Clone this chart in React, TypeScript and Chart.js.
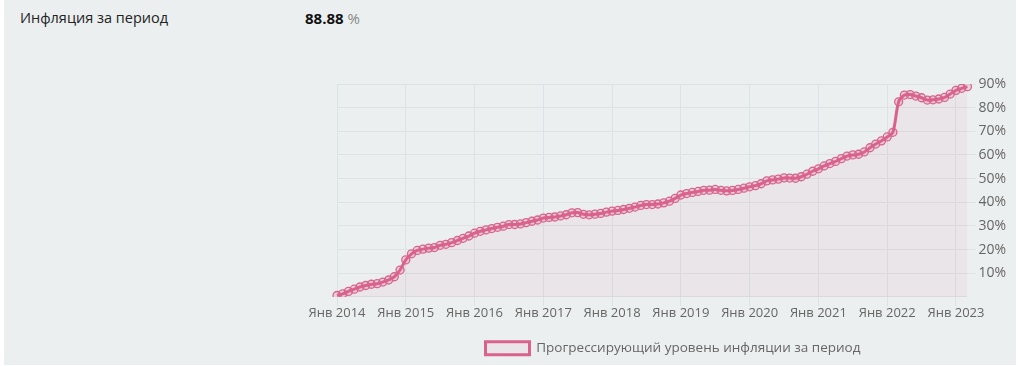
import React, { useEffect, useRef } from "react";
import { Chart, registerables } from "chart.js";

Chart.register(...registerables);

const monthNames = ["Янв", "Фев", "Мар", "Апр", "Май", "Июн", "Июл", "Авг", "Сен", "Окт", "Ноя", "Дек"];
const years = [2014, 2015, 2016, 2017, 2018, 2019, 2020, 2021, 2022, 2023];

const values2014 = [0.59, 1.29, 2.33, 3.25, 4.18, 4.82, 5.34, 5.59, 6.28, 7.15, 8.52, 11.36];
const values2015 = [15.65, 18.22, 19.65, 20.2, 20.62, 20.85, 21.81, 22.24, 22.94, 23.85, 24.78, 25.74];
const values2016 = [26.94, 27.74, 28.33, 28.9, 29.42, 29.89, 30.59, 30.61, 30.83, 31.39, 31.97, 32.5];
const values2017 = [33.32, 33.61, 33.78, 34.23, 34.72, 35.54, 35.64, 34.91, 34.7, 34.97, 35.27, 35.84];
const values2018 = [36.26, 36.55, 36.94, 37.46, 37.98, 38.66, 39.04, 39.05, 39.27, 39.76, 40.46, 41.64];
const values2019 = [43.07, 43.7, 44.16, 44.58, 45.07, 45.13, 45.42, 45.07, 44.83, 45.02, 45.43, 45.95];
const values2020 = [46.54, 47.02, 47.83, 49.06, 49.46, 49.79, 50.31, 50.25, 50.15, 50.79, 51.86, 53.12];
const values2021 = [54.15, 55.35, 56.38, 57.28, 58.45, 59.54, 60.03, 60.31, 61.27, 63.06, 64.62, 65.97];
const values2022 = [67.62, 69.58, 82.48, 85.33, 85.55, 84.9, 84.18, 83.22, 83.32, 83.65, 84.32, 85.76];
const values2023 = [87.32, 88.18, 88.88];

const values = [
  ...values2014, ...values2015, ...values2016, ...values2017, ...values2018,
  ...values2019, ...values2020, ...values2021, ...values2022, ...values2023,
];

const categories: string[] = [];
years.forEach((y) => monthNames.forEach((m) => categories.push(m + " " + y)));
const labels = categories.slice(0, values.length);

const yTicks = [0, 10, 20, 30, 40, 50, 60, 70, 80, 90];
const seriesLabel = "Прогрессирующий уровень инфляции за период";
const totalValue = "88.88";

const FONT = "'Open Sans', sans-serif";
const PINK = "rgb(218, 98, 140)";
const GRID = "#dde2e4";

export default function App() {
  const ref = useRef<HTMLCanvasElement | null>(null);
  useEffect(() => {
    document.body.style.margin = "0";
    const chart = new Chart(ref.current!, {
      type: "line",
      data: {
        labels,
        datasets: [
          {
            label: seriesLabel,
            data: values,
            borderColor: PINK,
            borderWidth: 3,
            backgroundColor: "rgba(218, 98, 140, 0.07)",
            fill: "origin",
            tension: 0.3,
            pointRadius: 4,
            pointBorderWidth: 1.3,
            pointBorderColor: PINK,
            pointBackgroundColor: "rgba(218, 98, 140, 0.2)",
          },
        ],
      },
      options: {
        animation: false,
        responsive: false,
        maintainAspectRatio: false,
        layout: { padding: { left: 37, right: 7, top: 24, bottom: 0 } },
        plugins: {
          legend: {
            position: "bottom",
            labels: {
              color: "#666",
              font: { family: FONT, size: 13.5 },
              boxWidth: 44,
              boxHeight: 13,
              padding: 10,
            },
          },
          tooltip: { enabled: false },
        },
        scales: {
          x: {
            type: "category",
            afterFit: (axis: any) => {
              axis.height += 10;
            },
            ticks: {
              autoSkip: false,
              maxRotation: 0,
              padding: 0,
              color: "#666",
              font: { family: FONT, size: 13 },
              callback: (_v: any, i: number) => (labels[i].startsWith("Янв") ? labels[i] : ""),
            },
            grid: {
              color: (ctx: any) => (labels[ctx.index] && labels[ctx.index].startsWith("Янв") ? GRID : "transparent"),
              tickLength: 9,
            },
            border: { display: false },
          },
          y: {
            position: "right",
            min: yTicks[0],
            max: yTicks[yTicks.length - 1],
            afterBuildTicks: (axis: any) => {
              axis.ticks = yTicks.map((v) => ({ value: v }));
            },
            ticks: {
              color: "#666",
              font: { family: FONT, size: 14 },
              callback: (v: any) => (v === 0 ? "" : v + "%"),
            },
            grid: {
              color: GRID,
              tickColor: (ctx: any) => (ctx.tick && ctx.tick.value === 0 ? "transparent" : GRID),
              tickLength: 8,
            },
            border: { display: false },
          },
        },
      },
    });
    return () => chart.destroy();
  }, []);

  return (
    <div style={{ position: "absolute", left: 4, top: 0, width: 1012, height: 365, background: "#ebeff0", fontFamily: FONT }}>
      <div style={{ position: "absolute", left: 16, top: 8, fontSize: 14.5, color: "#222" }}>Инфляция за период</div>
      <div style={{ position: "absolute", left: 301, top: 8, fontSize: 15 }}>
        <span style={{ fontWeight: 700, color: "#111" }}>{totalValue}</span>
        <span style={{ color: "#888" }}> %</span>
      </div>
      <canvas ref={ref} width={716} height={305} style={{ position: "absolute", left: 296, top: 60, width: 716, height: 305 }} />
    </div>
  );
}
